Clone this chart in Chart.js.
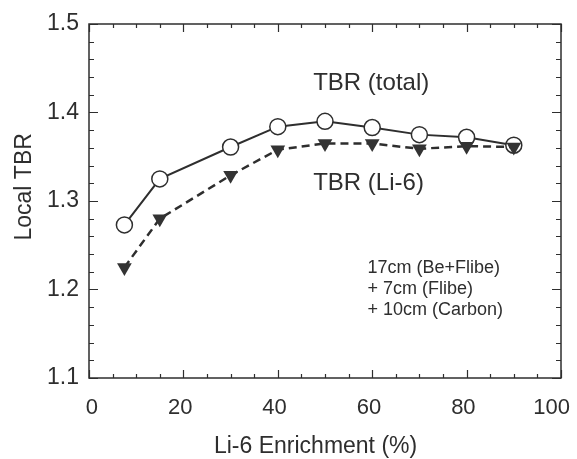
<!DOCTYPE html>
<html>
<head>
<meta charset="utf-8">
<script src="https://cdn.jsdelivr.net/npm/chart.js@4/dist/chart.umd.min.js"></script>
<style>
  html, body { margin: 0; padding: 0; background: #ffffff; }
  #wrap { width: 577px; height: 459px; }
</style>
</head>
<body>
<div id="wrap"><canvas id="c" width="577" height="459"></canvas></div>
<script>
// ---- data ----
const enrichment = [7.5, 15, 30, 40, 50, 60, 70, 80, 90];
const tbrTotal   = [1.273, 1.325, 1.361, 1.384, 1.390, 1.383, 1.375, 1.372, 1.363];
const tbrLi6     = [1.225, 1.280, 1.329, 1.358, 1.365, 1.365, 1.359, 1.362, 1.361];

const xTicks = [0, 20, 40, 60, 80, 100];
const yTicks = [1.1, 1.2, 1.3, 1.4, 1.5];
const xMinorStep = 5;
const yMinorStep = 0.02;

const seriesLabels = ['TBR (total)', 'TBR (Li-6)'];
const noteLines = ['17cm (Be+Flibe)', '+ 7cm (Flibe)', '+ 10cm (Carbon)'];
const xTitle = 'Li-6 Enrichment (%)';
const yTitle = 'Local TBR';

// ---- style ----
const INK = '#2e2e2e';
const FONT = '"Liberation Sans", Arial, sans-serif';

function pts(xs, ys) { return xs.map((x, i) => ({ x: x, y: ys[i] })); }

const framePlugin = {
  id: 'frameTicks',
  afterDraw(chart) {
    const ctx = chart.ctx;
    const a = chart.chartArea;
    const xs = chart.scales.x, ys = chart.scales.y;
    ctx.save();
    ctx.strokeStyle = INK;
    ctx.lineWidth = 1.5;
    ctx.strokeRect(a.left, a.top, a.right - a.left, a.bottom - a.top);
    ctx.lineWidth = 1.2;
    ctx.beginPath();
    // x ticks (bottom and top), pointing inward
    for (let v = xs.min; v <= xs.max + 1e-9; v += xMinorStep) {
      const px = Math.round(xs.getPixelForValue(v)) + 0.5;
      const major = xTicks.some(t => Math.abs(t - v) < 1e-6);
      const len = major ? 8 : 4;
      ctx.moveTo(px, a.bottom); ctx.lineTo(px, a.bottom - len);
      ctx.moveTo(px, a.top); ctx.lineTo(px, a.top + len);
    }
    // y ticks (left and right), pointing inward
    const n = Math.round((ys.max - ys.min) / yMinorStep);
    for (let i = 0; i <= n; i++) {
      const v = ys.min + i * yMinorStep;
      const py = Math.round(ys.getPixelForValue(v)) + 0.5;
      const major = yTicks.some(t => Math.abs(t - v) < 1e-6);
      const len = major ? 9 : 5;
      ctx.moveTo(a.left, py); ctx.lineTo(a.left + len, py);
      ctx.moveTo(a.right, py); ctx.lineTo(a.right - len, py);
    }
    ctx.stroke();

    ctx.fillStyle = INK;
    ctx.textBaseline = 'middle';

    // axis titles
    ctx.font = '23px ' + FONT;
    ctx.textAlign = 'center';
    ctx.fillText(xTitle, a.left + (a.right - a.left) * 0.48, 447);
    ctx.save();
    ctx.translate(25, a.top + (a.bottom - a.top) * 0.46);
    ctx.rotate(-Math.PI / 2);
    ctx.fillText(yTitle, 0, 0);
    ctx.restore();

    // annotations placed in data coordinates
    ctx.textAlign = 'left';
    ctx.font = '24px ' + FONT;
    ctx.fillText(seriesLabels[0], xs.getPixelForValue(47.5), ys.getPixelForValue(1.433));
    ctx.fillText(seriesLabels[1], xs.getPixelForValue(47.5), ys.getPixelForValue(1.3195));
    ctx.font = '18px ' + FONT;
    const noteY = [1.224, 1.2003, 1.1766];
    noteLines.forEach((t, i) => {
      ctx.fillText(t, xs.getPixelForValue(59.0), ys.getPixelForValue(noteY[i]));
    });
    ctx.restore();
  }
};

new Chart(document.getElementById('c'), {
  type: 'line',
  data: {
    datasets: [
      {
        label: seriesLabels[0],
        data: pts(enrichment, tbrTotal),
        borderColor: INK,
        borderWidth: 2,
        pointStyle: 'circle',
        pointRadius: 8,
        pointBorderWidth: 1.5,
        pointBackgroundColor: '#ffffff',
        pointBorderColor: INK,
        tension: 0,
        order: 2
      },
      {
        label: seriesLabels[1],
        data: pts(enrichment, tbrLi6),
        borderColor: INK,
        borderWidth: 2.5,
        borderDash: [8, 5],
        pointStyle: 'triangle',
        rotation: 180,
        pointRadius: 8.5,
        pointBorderWidth: 0,
        pointBackgroundColor: '#333333',
        pointBorderColor: '#333333',
        tension: 0,
        order: 1
      }
    ]
  },
  options: {
    responsive: false,
    animation: false,
    devicePixelRatio: 1,
    layout: { autoPadding: false, padding: { top: 24, right: 16, left: 0, bottom: 0 } },
    plugins: { legend: { display: false }, tooltip: { enabled: false } },
    scales: {
      x: {
        type: 'linear',
        min: 0, max: 100,
        afterBuildTicks: s => { s.ticks = xTicks.map(v => ({ value: v })); },
        afterFit: s => { s.height = 81; s.paddingLeft = 0; s.paddingRight = 0; },
        grid: { display: false, drawTicks: false },
        border: { display: false },
        ticks: { color: INK, font: { family: FONT, size: 22 }, padding: 17, maxRotation: 0, align: 'end', labelOffset: 9 },
        title: { display: false }
      },
      y: {
        type: 'linear',
        min: 1.1, max: 1.5,
        afterBuildTicks: s => { s.ticks = yTicks.map(v => ({ value: v })); },
        afterFit: s => { s.width = 89; s.paddingTop = 0; s.paddingBottom = 0; },
        grid: { display: false, drawTicks: false },
        border: { display: false },
        ticks: { color: INK, font: { family: FONT, size: 23 }, padding: 10, callback: v => Number(v).toFixed(1) },
        title: { display: false }
      }
    }
  },
  plugins: [framePlugin]
});
</script>
</body>
</html>
